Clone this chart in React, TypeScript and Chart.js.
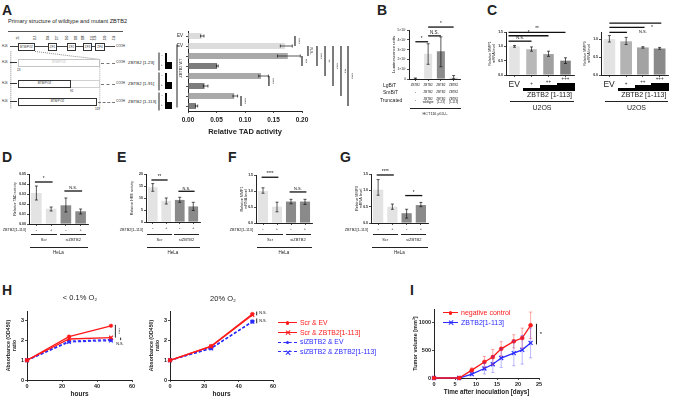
import React, { useEffect, useRef } from 'react';
import { Chart, registerables } from 'chart.js';

Chart.register(...registerables);

const FF = "'Liberation Sans', Arial, Helvetica, sans-serif";
Chart.defaults.font.family = FF;
Chart.defaults.color = '#222';

// ======================= DATA =======================
// Panel A – Relative TAD activity (rows listed from top to bottom)
const aRows = ['EV', 'EV', '', '', '', '', '', ''];
const aMean = [0.024, 0.17, 0.175, 0.051, 0.128, 0.029, 0.081, 0.014];
const aLow = [0.022, 0.162, 0.157, 0.05, 0.124, 0.027, 0.079, 0.013];
const aHigh = [0.028, 0.183, 0.197, 0.053, 0.141, 0.035, 0.087, 0.017];
const aTicks = [0, 0.05, 0.1, 0.15, 0.2];
const aWtNumbers = ['25', '113', '204', '227', '260', '283', '288', '311', '316', '339', '514'];

// Panel B – NanoBiT luminescence
const bCats = ['EV', 'ZBTB2 wildtype', 'ZBTB2 [1-23]', 'ZBTB2 [1-113]'];
const bMean = [0.05e7, 2.57e7, 2.83e7, 0.12e7];
const bLow = [0.0, 1.5e7, 1.25e7, 0.02e7];
const bHigh = [0.1e7, 3.6e7, 4.3e7, 0.35e7];
const bTicks = [0, 1e7, 2e7, 3e7, 4e7, 5e7];
const bLgBiT = ['ZBTB2', 'ZBTB2', 'ZBTB2', 'ZBTB2'];
const bSmBiT = ['-', 'ZBTB2', 'ZBTB2', 'ZBTB2'];
const bTruncated = ['-', 'ZBTB2\nwildtype', 'ZBTB2\n[1-23]', 'ZBTB2\n[1-113]'];

// Panel C – U2OS dose response
const cCats = ['EV', '+', '++', '+++'];
const c1Mean = [1.0, 0.9, 0.73, 0.5];
const c1Low = [0.97, 0.83, 0.65, 0.4];
const c1High = [1.03, 0.98, 0.83, 0.6];
const c1Ticks = [0, 0.5, 1.0, 1.5];
const c2Mean = [1.0, 0.94, 0.77, 0.74];
const c2Low = [0.92, 0.85, 0.75, 0.72];
const c2High = [1.1, 1.05, 0.79, 0.77];
const c2Ticks = [0, 0.5, 1.0];

// Panels D–G – HeLa (Scr -, Scr +, siZBTB2 -, siZBTB2 +)
const helaSigns = ['-', '+', '-', '+'];
const dMean = [0.031, 0.0153, 0.0187, 0.0127];
const dLow = [0.024, 0.013, 0.012, 0.01];
const dHigh = [0.038, 0.017, 0.026, 0.015];
const dTicks = [0, 0.01, 0.02, 0.03, 0.04, 0.05];
const eMean = [14.5, 8.8, 9.2, 6.5];
const eLow = [12.8, 7.5, 8.2, 4.8];
const eHigh = [16.0, 10.0, 10.3, 8.2];
const eTicks = [0, 5, 10, 15, 20];
const fMean = [1.0, 0.51, 0.67, 0.67];
const fLow = [0.93, 0.35, 0.6, 0.58];
const fHigh = [1.1, 0.65, 0.74, 0.74];
const fTicks = [0, 0.5, 1.0, 1.5];
const gMean = [1.02, 0.5, 0.3, 0.55];
const gLow = [0.85, 0.42, 0.15, 0.5];
const gHigh = [1.33, 0.58, 0.42, 0.63];
const gTicks = [0, 0.5, 1.0, 1.5];

// Panel H – proliferation (hours)
const hTime = [0, 24, 48];
const hLowScrEV = [1, 2.2, 2.75];
const hLowScrZ = [1, 2.08, 2.15];
const hLowSiEV = [1, 1.97, 2.05];
const hLowSiZ = [1, 1.93, 2.0];
const hHighScrEV = [1, 1.72, 3.35];
const hHighScrZ = [1, 1.7, 3.3];
const hHighSiEV = [1, 1.62, 2.97];
const hHighSiZ = [1, 1.6, 2.95];
const hXTicks = [0, 20, 40, 60];
const hYTicks = [0, 1, 2, 3];
const hSeriesNames = ['Scr & EV', 'Scr & ZBTB2[1-113]', 'siZBTB2 & EV', 'siZBTB2 & ZBTB2[1-113]'];

// Panel I – tumor volume
const iDays = [0, 6, 9, 12, 14, 16, 19, 21, 23];
const iNeg = [0, 0, 143, 291, 380, 530, 666, 726, 958];
const iNegSD = [0, 0, 40, 100, 140, 130, 120, 180, 240];
const iZ = [0, 0, 71, 173, 250, 363, 452, 512, 637];
const iZSD = [0, 0, 30, 100, 150, 170, 230, 260, 270];
const iXTicks = [0, 5, 10, 15, 20, 25];
const iYTicks = [0, 500, 1000];
const iSeriesNames = ['negative control', 'ZBTB2[1-113]'];

// ======================= STYLES =======================
const RED = '#ff1a1a';
const BLUE = '#2b2bff';
const aColors = ['#dcdcdc', '#dcdcdc', '#a9a9a9', '#7d7d7d', '#a9a9a9', '#7d7d7d', '#a9a9a9', '#7d7d7d'];
const bColors = ['#cfcfcf', '#e3e3e3', '#8c8c8c', '#b5b5b5'];
const c1Colors = ['#e3e3e3', '#b8b8b8', '#a0a0a0', '#808080'];
const c2Colors = ['#e3e3e3', '#b3b3b3', '#a3a3a3', '#8a8a8a'];
const helaColors = ['#e3e3e3', '#e3e3e3', '#8a8a8a', '#8a8a8a'];

// ======================= HELPERS =======================
type Rect = { x0: number; x1: number; y0: number; y1: number; L: number; R: number; T: number; B: number };
const box = (r: Rect) => ({ left: r.x0 - r.L, top: r.y0 - r.T, width: r.x1 - r.x0 + r.L + r.R, height: r.y1 - r.y0 + r.T + r.B });
const catCenter = (r: Rect, n: number, i: number) => r.x0 + ((i + 0.5) * (r.x1 - r.x0)) / n;

function linAxis(o: any) {
  return {
    type: 'linear',
    position: o.pos,
    min: o.min,
    max: o.max,
    bounds: 'data',
    afterBuildTicks: (s: any) => {
      s.ticks = o.ticks.map((v: number) => ({ value: v }));
    },
    afterFit: (s: any) => {
      if (o.pos === 'left') s.width = o.size;
      else s.height = o.size;
    },
    ticks: {
      callback: (v: any) => o.fmt(Number(v)),
      font: { size: o.fs, weight: o.bold ? 'bold' : 'normal' },
      color: '#222',
      padding: o.pad ?? 1,
      autoSkip: false,
      maxRotation: 0,
      minRotation: 0,
    },
    grid: { drawOnChartArea: false, drawTicks: true, tickLength: o.tickLen ?? 2, color: '#222', lineWidth: 0.8 },
    border: { display: true, color: '#222', width: 1 },
    title: o.title
      ? { display: true, text: o.title, font: { size: o.tfs ?? o.fs, weight: o.tbold ? 'bold' : 'normal', lineHeight: 1.15 }, color: '#222', padding: 0 }
      : { display: false },
  };
}

function catAxis(o: any) {
  return {
    type: 'category',
    position: o.pos,
    offset: true,
    afterFit: (s: any) => {
      if (o.pos === 'left') s.width = o.size;
      else s.height = o.size;
    },
    ticks: { display: o.show, font: { size: o.fs ?? 4 }, color: '#222', padding: o.pad ?? 1, autoSkip: false, maxRotation: 0, minRotation: 0 },
    grid: { offset: false, drawOnChartArea: false, drawTicks: true, tickLength: 2, color: '#222', lineWidth: 0.8 },
    border: { display: true, color: '#222', width: 1 },
  };
}

type ErrSpec = { ds: number; low: number[]; high: number[]; color?: string; w?: number; cap?: number };
function errPlugin(specs: ErrSpec[], horizontal: boolean) {
  return {
    id: 'errbars',
    afterDatasetsDraw(chart: any) {
      const ctx = chart.ctx;
      const vs = horizontal ? chart.scales.x : chart.scales.y;
      specs.forEach((sp) => {
        const meta = chart.getDatasetMeta(sp.ds);
        ctx.save();
        ctx.strokeStyle = sp.color ?? '#111';
        ctx.lineWidth = sp.w ?? 0.7;
        const cap = sp.cap ?? 1.5;
        meta.data.forEach((el: any, i: number) => {
          if (sp.low[i] == null || sp.low[i] === sp.high[i]) return;
          const a = vs.getPixelForValue(sp.low[i]);
          const b = vs.getPixelForValue(sp.high[i]);
          const c = horizontal ? el.y : el.x;
          ctx.beginPath();
          if (horizontal) {
            ctx.moveTo(a, c); ctx.lineTo(b, c);
            ctx.moveTo(a, c - cap); ctx.lineTo(a, c + cap);
            ctx.moveTo(b, c - cap); ctx.lineTo(b, c + cap);
          } else {
            ctx.moveTo(c, a); ctx.lineTo(c, b);
            ctx.moveTo(c - cap, a); ctx.lineTo(c + cap, a);
            ctx.moveTo(c - cap, b); ctx.lineTo(c + cap, b);
          }
          ctx.stroke();
        });
        ctx.restore();
      });
    },
  };
}

type Ann = any;
function annPlugin(items: Ann[]) {
  return {
    id: 'ann',
    afterDraw(chart: any) {
      const { ctx } = chart;
      const xs = chart.scales.x;
      const ys = chart.scales.y;
      ctx.save();
      items.forEach((it: any) => {
        if (it.l) {
          ctx.strokeStyle = it.c ?? '#111';
          ctx.lineWidth = it.w ?? 1.3;
          ctx.beginPath();
          ctx.moveTo(xs.getPixelForValue(it.l[0]), ys.getPixelForValue(it.l[1]));
          ctx.lineTo(xs.getPixelForValue(it.l[2]), ys.getPixelForValue(it.l[3]));
          ctx.stroke();
        } else {
          const x = xs.getPixelForValue(it.at[0]) + (it.dx ?? 0);
          const y = ys.getPixelForValue(it.at[1]) + (it.dy ?? 0);
          ctx.save();
          ctx.translate(x, y);
          if (it.rot) ctx.rotate((it.rot * Math.PI) / 180);
          ctx.font = `${it.b ? 'bold ' : ''}${it.s ?? 4.5}px ${FF}`;
          ctx.fillStyle = it.c ?? '#111';
          ctx.textAlign = it.align ?? 'center';
          ctx.textBaseline = it.base ?? 'bottom';
          ctx.fillText(it.t, 0, 0);
          ctx.restore();
        }
      });
      ctx.restore();
    },
  };
}

const hBr = (a: number, b: number, v: number, t: string, s = 4.5): Ann[] => [
  { l: [a, v, b, v] },
  { t, at: [(a + b) / 2, v], dy: -0.8, s },
];
const vBr = (v: number, a: number, b: number, t: string, s = 3.6): Ann[] => [
  { l: [v, a, v, b], w: 1.1 },
  { t, at: [v, (a + b) / 2], dx: 0.8, s, rot: 90, base: 'bottom' },
];

function ChartCanvas({ r, make }: { r: Rect; make: () => any }) {
  const ref = useRef<HTMLCanvasElement>(null);
  const b = box(r);
  useEffect(() => {
    const ch = new Chart(ref.current as HTMLCanvasElement, make());
    return () => ch.destroy();
  }, []);
  return (
    <canvas
      ref={ref}
      width={b.width}
      height={b.height}
      style={{ position: 'absolute', left: b.left, top: b.top, width: b.width, height: b.height }}
    />
  );
}

function barConfig(o: any) {
  return {
    type: 'bar',
    data: {
      labels: o.labels,
      datasets: [{ data: o.values, backgroundColor: o.colors, borderWidth: 0, barPercentage: o.barPct, categoryPercentage: 1 }],
    },
    options: {
      animation: false,
      responsive: false,
      maintainAspectRatio: false,
      events: [],
      indexAxis: o.horizontal ? 'y' : 'x',
      layout: { padding: { top: o.r.T, right: o.r.R, left: 0, bottom: 0 } },
      plugins: { legend: { display: false }, tooltip: { enabled: false } },
      scales: o.horizontal ? { x: o.valAx, y: o.catAx } : { x: o.catAx, y: o.valAx },
    },
    plugins: [errPlugin([{ ds: 0, low: o.low, high: o.high }], !!o.horizontal), annPlugin(o.ann ?? [])],
  };
}

function lineConfig(o: any) {
  return {
    type: 'line',
    data: { datasets: o.datasets },
    options: {
      animation: false,
      responsive: false,
      maintainAspectRatio: false,
      events: [],
      layout: { padding: { top: o.r.T, right: o.r.R, left: 0, bottom: 0 } },
      plugins: { legend: { display: false }, tooltip: { enabled: false } },
      scales: { x: o.xAx, y: o.yAx },
    },
    plugins: [errPlugin(o.err ?? [], false), annPlugin(o.ann ?? [])],
  };
}

const pts = (xs: number[], ys: number[]) => xs.map((x, i) => ({ x, y: ys[i] }));

function lineDs(data: any[], color: string, style: string, dashed: boolean) {
  return {
    data,
    borderColor: color,
    backgroundColor: color,
    borderWidth: 1.3,
    borderDash: dashed ? [3, 2] : [],
    pointStyle: style,
    pointRadius: style === 'circle' ? 1.8 : 2.6,
    pointBorderWidth: style === 'circle' ? 0.5 : 1.2,
    pointBackgroundColor: color,
    pointBorderColor: color,
    fill: false,
    tension: 0,
    clip: false,
  };
}

// ---------- HTML helpers ----------
function Txt(p: any) {
  const { x, y, s = 5, b = false, c = '#222', a = 'l', rot = 0, lh = 1.05, children } = p;
  const tx = a === 'l' ? '0%' : a === 'c' ? '-50%' : '-100%';
  return (
    <div
      style={{
        position: 'absolute',
        left: x,
        top: y,
        fontSize: s,
        fontWeight: b ? 700 : 400,
        color: c,
        whiteSpace: 'pre',
        lineHeight: lh,
        textAlign: a === 'l' ? 'left' : a === 'c' ? 'center' : 'right',
        transform: `translate(${tx},-50%)${rot ? ` rotate(${rot}deg)` : ''}`,
        transformOrigin: '50% 50%',
      }}
    >
      {children}
    </div>
  );
}

function Ln({ x1, y1, x2, y2, w = 1, c = '#222', dash = 'solid' }: any) {
  const dx = x2 - x1;
  const dy = y2 - y1;
  const len = Math.hypot(dx, dy);
  const ang = (Math.atan2(dy, dx) * 180) / Math.PI;
  return (
    <div
      style={{
        position: 'absolute',
        left: x1,
        top: y1 - w / 2,
        width: len,
        height: 0,
        borderTop: `${w}px ${dash} ${c}`,
        transform: `rotate(${ang}deg)`,
        transformOrigin: `0 ${w / 2}px`,
      }}
    />
  );
}

function Bx({ x, y, w, h, bg = '#fff', bc = '#333', bw = 0.8, text, tc = '#333', ts = 3.2, noLeft = false }: any) {
  return (
    <div
      style={{
        position: 'absolute',
        left: x,
        top: y,
        width: w,
        height: h,
        boxSizing: 'border-box',
        background: bg,
        border: `${bw}px solid ${bc}`,
        borderLeft: noLeft ? 'none' : `${bw}px solid ${bc}`,
        fontSize: ts,
        color: tc,
        display: 'flex',
        alignItems: 'center',
        justifyContent: 'center',
        lineHeight: 1,
      }}
    >
      {text}
    </div>
  );
}

function Rc({ x, y, w, h, c = '#000' }: any) {
  return <div style={{ position: 'absolute', left: x, top: y, width: w, height: h, background: c }} />;
}

// ======================= LAYOUT =======================
const rA: Rect = { x0: 188, x1: 302, y0: 31, y1: 111, L: 20, R: 56, T: 6, B: 25 };
const rB: Rect = { x0: 409, x1: 460, y0: 30, y1: 79, L: 18, R: 4, T: 13, B: 4 };
const rC1: Rect = { x0: 506, x1: 574, y0: 32, y1: 75, L: 18, R: 4, T: 10, B: 4 };
const rC2: Rect = { x0: 601, x1: 668, y0: 32, y1: 75, L: 18, R: 5, T: 13, B: 4 };
const rD: Rect = { x0: 29, x1: 88, y0: 174, y1: 224, L: 16, R: 3, T: 6, B: 10 };
const rE: Rect = { x0: 146, x1: 200, y0: 174, y1: 222, L: 16, R: 3, T: 6, B: 10 };
const rF: Rect = { x0: 256, x1: 312, y0: 175, y1: 223, L: 16, R: 3, T: 6, B: 10 };
const rG: Rect = { x0: 371, x1: 428, y0: 174, y1: 223, L: 16, R: 3, T: 6, B: 10 };
const rH1: Rect = { x0: 27, x1: 132, y0: 311, y1: 380, L: 21, R: 6, T: 6, B: 18 };
const rH2: Rect = { x0: 170, x1: 273, y0: 311, y1: 380, L: 21, R: 6, T: 6, B: 18 };
const rI: Rect = { x0: 434, x1: 539, y0: 308, y1: 378, L: 22, R: 12, T: 4, B: 18 };

const f2 = (v: number) => v.toFixed(2);
const f1 = (v: number) => v.toFixed(1);
const f0 = (v: number) => String(v);

// ---------- chart factories ----------
const makeA = () =>
  barConfig({
    r: rA,
    horizontal: true,
    labels: aRows,
    values: aMean,
    low: aLow,
    high: aHigh,
    colors: aColors,
    barPct: 0.6,
    catAx: catAxis({ pos: 'left', size: rA.L, show: true, fs: 4.5, pad: 3 }),
    valAx: linAxis({ pos: 'bottom', size: rA.B, ticks: aTicks, min: 0, max: 0.2, fmt: f2, fs: 6.5, bold: true, pad: 3, title: 'Relative TAD activity', tfs: 7.5, tbold: true }),
    ann: [
      ...vBr(0.1877, 0, 1, '****'),
      ...vBr(0.2, 2, 3, '***'),
      ...vBr(0.2105, 1, 2, 'N.S.'),
      ...vBr(0.2263, 1, 3, '****'),
      ...vBr(0.2404, 1, 4, '**'),
      ...vBr(0.2544, 1, 5, '****'),
      ...vBr(0.2684, 1, 6, '***'),
      ...vBr(0.2807, 1, 7, '****'),
      ...vBr(0.142, 4, 5, '****'),
      ...vBr(0.093, 6, 7, '****'),
    ],
  });

const bFmt = (v: number) => (v === 0 ? '0' : `${Math.round(v / 1e7)}×10⁷`);
const makeB = () =>
  barConfig({
    r: rB,
    labels: bCats,
    values: bMean,
    low: bLow,
    high: bHigh,
    colors: bColors,
    barPct: 0.63,
    catAx: catAxis({ pos: 'bottom', size: rB.B, show: false }),
    valAx: linAxis({ pos: 'left', size: rB.L, ticks: bTicks, min: 0, max: 5e7, fmt: bFmt, fs: 3.3, title: 'Luminescence units', tfs: 4.2 }),
    ann: [...hBr(0, 1, 3.8e7, '*'), ...hBr(1, 2, 4.4e7, 'N.S.'), ...hBr(1, 3, 5.3e7, '*')],
  });

const makeC1 = () =>
  barConfig({
    r: rC1,
    labels: cCats,
    values: c1Mean,
    low: c1Low,
    high: c1High,
    colors: c1Colors,
    barPct: 0.62,
    catAx: catAxis({ pos: 'bottom', size: rC1.B, show: false }),
    valAx: linAxis({ pos: 'left', size: rC1.L, ticks: c1Ticks, min: 0, max: 1.5, fmt: f1, fs: 3.5, bold: true, title: ['Relative MMP1', 'mRNA level'], tfs: 3.6 }),
    ann: [...hBr(-0.35, 1, 1.18, 'N.S.', 4), ...hBr(-0.35, 2, 1.37, '*'), ...hBr(-0.35, 3, 1.49, '**')],
  });

const makeC2 = () =>
  barConfig({
    r: rC2,
    labels: cCats,
    values: c2Mean,
    low: c2Low,
    high: c2High,
    colors: c2Colors,
    barPct: 0.7,
    catAx: catAxis({ pos: 'bottom', size: rC2.B, show: false }),
    valAx: linAxis({ pos: 'left', size: rC2.L, ticks: c2Ticks, min: 0, max: 1.2, fmt: f1, fs: 3.5, bold: true, title: ['Relative MMP9', 'mRNA level'], tfs: 3.6 }),
    ann: [
      { l: [0, 1.45, 3.1, 1.45] },
      { t: '*', at: [3.0, 1.45], dy: -0.5, s: 5 },
      { l: [0, 1.33, 2.1, 1.33] },
      { t: '*', at: [2.55, 1.33], dy: 2.5, s: 5 },
      { l: [0, 1.19, 1.05, 1.19] },
      { t: 'N.S.', at: [2.0, 1.19], dy: 2, s: 4 },
    ],
  });

const helaConfig = (r: Rect, mean: number[], low: number[], high: number[], ticks: number[], max: number, fmt: any, title: any, ann: Ann[]) => () =>
  barConfig({
    r,
    labels: helaSigns,
    values: mean,
    low,
    high,
    colors: helaColors,
    barPct: 0.72,
    catAx: catAxis({ pos: 'bottom', size: r.B, show: true, fs: 4, pad: 1.5 }),
    valAx: linAxis({ pos: 'left', size: r.L, ticks, min: 0, max, fmt, fs: 3.5, bold: true, title, tfs: 3.7 }),
    ann,
  });

const makeD = helaConfig(rD, dMean, dLow, dHigh, dTicks, 0.05, f2, 'Relative TAD activity', [...hBr(-0.1, 1.1, 0.042, '*'), ...hBr(1.9, 3.1, 0.033, 'N.S.', 4)]);
const makeE = helaConfig(rE, eMean, eLow, eHigh, eTicks, 20, f0, 'Relative HRE activity', [...hBr(-0.1, 1.1, 17.5, '**'), ...hBr(1.9, 3.1, 12.8, 'N.S.', 4)]);
const makeF = helaConfig(rF, fMean, fLow, fHigh, fTicks, 1.5, f1, ['Relative MMP1', 'mRNA level'], [...hBr(-0.1, 1.1, 1.43, '****'), ...hBr(1.9, 3.1, 0.97, 'N.S.', 4)]);
const makeG = helaConfig(rG, gMean, gLow, gHigh, gTicks, 1.5, f1, ['Relative MMP9', 'mRNA level'], [...hBr(-0.1, 1.1, 1.47, '****'), ...hBr(1.9, 3.1, 0.84, '*')]);

const hAxes = (r: Rect) => ({
  xAx: linAxis({ pos: 'bottom', size: r.B, ticks: hXTicks, min: 0, max: 60, fmt: f0, fs: 5.5, bold: true, title: 'hours', tfs: 6.5, tbold: true }),
  yAx: linAxis({ pos: 'left', size: r.L, ticks: hYTicks, min: 0, max: 3.5, fmt: f0, fs: 5.5, bold: true, title: ['Absorbance (OD450)', 'ratio'], tfs: 5.2, tbold: true }),
});

const hDatasets = (a: number[], b: number[], c: number[], d: number[]) => [
  lineDs(pts(hTime, a), RED, 'circle', false),
  lineDs(pts(hTime, b), RED, 'crossRot', false),
  lineDs(pts(hTime, c), BLUE, 'circle', true),
  lineDs(pts(hTime, d), BLUE, 'crossRot', true),
];

const makeH1 = () =>
  lineConfig({
    r: rH1,
    datasets: hDatasets(hLowScrEV, hLowScrZ, hLowSiEV, hLowSiZ),
    ...hAxes(rH1),
    ann: [
      { l: [50.5, 2.8, 50.5, 2.15], w: 0.9 },
      { t: '****', at: [50.5, 2.48], dx: 1, s: 3.6, rot: 90, base: 'bottom' },
      { l: [53.5, 2.15, 53.5, 2.02], w: 0.9 },
      { t: 'N.S.', at: [51, 1.82], s: 3.8, align: 'left', base: 'middle' },
    ],
  });

const makeH2 = () =>
  lineConfig({
    r: rH2,
    datasets: hDatasets(hHighScrEV, hHighScrZ, hHighSiEV, hHighSiZ),
    ...hAxes(rH2),
    ann: [
      { l: [50.5, 3.47, 50.5, 3.28], w: 0.9 },
      { t: 'N.S.', at: [52, 3.38], s: 3.8, align: 'left', base: 'middle' },
      { l: [50.5, 3.12, 50.5, 2.88], w: 0.9 },
      { t: 'N.S.', at: [52, 3.0], s: 3.8, align: 'left', base: 'middle' },
    ],
  });

const makeI = () =>
  lineConfig({
    r: rI,
    datasets: [
      { ...lineDs(pts(iDays, iNeg), RED, 'circle', false), pointRadius: 2 },
      { ...lineDs(pts(iDays, iZ), BLUE, 'crossRot', false), pointRadius: 2.8 },
    ],
    xAx: linAxis({ pos: 'bottom', size: rI.B, ticks: iXTicks, min: 0, max: 25, fmt: f0, fs: 5.5, bold: true, title: 'Time after inoculation [days]', tfs: 6.3, tbold: true }),
    yAx: linAxis({ pos: 'left', size: rI.L, ticks: iYTicks, min: 0, max: 1250, fmt: f0, fs: 5.5, bold: true, title: 'Tumor volume [mm³]', tfs: 5.5, tbold: true }),
    err: [
      { ds: 0, low: iNeg.map((v, i) => v - iNegSD[i]), high: iNeg.map((v, i) => v + iNegSD[i]), color: 'rgba(255,40,40,0.45)', w: 0.9, cap: 1.6 },
      { ds: 1, low: iZ.map((v, i) => v - iZSD[i]), high: iZ.map((v, i) => v + iZSD[i]), color: 'rgba(60,60,255,0.4)', w: 0.9, cap: 1.6 },
    ],
    ann: [
      { l: [24.4, 985, 24.4, 610], w: 1 },
      { t: '*', at: [25.2, 800], s: 6, align: 'left', base: 'middle' },
    ],
  });

// ======================= PANELS (HTML parts) =======================
function DiagramA() {
  const wtX = [18, 35, 48, 57, 67, 76, 83, 92, 95, 105, 114];
  const rows = [
    { y: 63, label: 'ZBTB2 [1-23]', end: '23', endX: 17 },
    { y: 84, label: 'ZBTB2 [1-91]', end: '91', endX: 70 },
    { y: 102, label: 'ZBTB2 [1-113]', end: '113', endX: 95 },
  ];
  return (
    <>
      <Txt x={8} y={22} s={5.6}>Primary structure of wildtype and mutant ZBTB2</Txt>
      <Ln x1={8} y1={31} x2={123} y2={31} w={1} c="#555" />
      {/* wildtype */}
      <Txt x={2} y={47} s={3}>H₂N</Txt>
      <Ln x1={10} y1={47} x2={115} y2={47} w={1.4} c="#444" />
      {wtX.map((x, i) => (
        <Txt key={i} x={x} y={38} s={2.8} a="c" rot={-90}>{aWtNumbers[i]}</Txt>
      ))}
      <Bx x={18} y={43} w={17} h={8} text="BTB/POZ" ts={3} />
      <Bx x={48} y={43} w={9} h={8} text="ZF1" ts={3} />
      <Bx x={67} y={43} w={9} h={8} text="ZF2" ts={3} />
      <Bx x={83} y={43} w={9} h={8} text="ZF3" ts={3} />
      <Bx x={95} y={43} w={10} h={8} text="ZF4" ts={3} />
      <Txt x={116} y={47} s={3}>COOH</Txt>
      {/* guide lines */}
      <Ln x1={11} y1={51} x2={11} y2={108} w={0.6} c="#888" dash="dotted" />
      <Ln x1={35} y1={51} x2={100} y2={59} w={0.6} c="#888" dash="dotted" />
      <Ln x1={100} y1={59} x2={100} y2={108} w={0.6} c="#aaa" dash="dotted" />
      {/* mutants */}
      {rows.map((r, i) => (
        <React.Fragment key={i}>
          <Txt x={2} y={r.y} s={3}>H₂N</Txt>
          <Ln x1={10} y1={r.y} x2={17} y2={r.y} w={1.8} c="#333" />
          {i === 0 && <Bx x={18} y={r.y - 4} w={82} h={8} bc="#c4c4c4" tc="#bbb" text="BTB/POZ" />}
          {i === 1 && (
            <>
              <Bx x={71} y={r.y - 4} w={29} h={8} bc="#d0d0d0" noLeft text="" />
              <Bx x={18} y={r.y - 4} w={53} h={8} text="BTB/POZ" />
            </>
          )}
          {i === 2 && <Bx x={18} y={r.y - 4} w={79} h={8} text="BTB/POZ" />}
          <Txt x={r.endX} y={r.y + 8} s={3}>{r.end}</Txt>
          <Ln x1={i === 2 ? 98 : 101} y1={r.y} x2={115} y2={r.y} w={0.8} c="#777" dash="dashed" />
          <Txt x={116} y={r.y} s={3}>COOH</Txt>
          <Txt x={128} y={r.y} s={4.4}>{r.label}</Txt>
        </React.Fragment>
      ))}
      {/* -/+ wedges for the bar pairs */}
      {[
        [56, 66],
        [76, 86],
        [96, 106],
      ].map(([c0, c1], i) => (
        <React.Fragment key={'w' + i}>
          <Ln x1={159} y1={c0 - 4} x2={159} y2={c1 + 4} w={1} c="#222" />
          <Rc x={165} y={c0 - 3} w={2} h={c1 - c0 + 6} />
          <Rc x={167} y={c1 - 4} w={5} h={7} />
          <Txt x={162} y={c0} s={3} a="c">-</Txt>
          <Txt x={162} y={c1} s={3} a="c">+</Txt>
        </React.Fragment>
      ))}
      <Ln x1={177} y1={44} x2={177} y2={107} w={1} c="#222" />
      <Txt x={181} y={68} s={3.8} a="c" rot={-90}>ZBTB2 WT</Txt>
    </>
  );
}

function TableB() {
  const cx = (i: number) => catCenter(rB, 4, i);
  return (
    <>
      <Txt x={383} y={86} s={5}>LgBiT</Txt>
      <Txt x={383} y={93} s={5}>SmBiT</Txt>
      <Txt x={380} y={101} s={5}>Truncated</Txt>
      {bLgBiT.map((t, i) => (
        <Txt key={'l' + i} x={cx(i)} y={86} s={3} a="c">{t}</Txt>
      ))}
      {bSmBiT.map((t, i) => (
        <Txt key={'s' + i} x={cx(i)} y={93} s={3} a="c">{t}</Txt>
      ))}
      {bTruncated.map((t, i) => (
        <Txt key={'t' + i} x={cx(i)} y={101} s={3} a="c">{t}</Txt>
      ))}
      <Ln x1={410} y1={109} x2={461} y2={109} w={1.2} />
      <Txt x={435} y={113.5} s={3.8} a="c">HCT116 p53-/-</Txt>
    </>
  );
}

function LabelsC({ r }: { r: Rect }) {
  const cx = (i: number) => catCenter(r, 4, i);
  const w = (r.x1 - r.x0) / 4;
  return (
    <>
      <Txt x={cx(0) - 6} y={84} s={8.5}>EV</Txt>
      <Rc x={cx(1) - w / 2} y={87.5} w={w} h={3} />
      <Rc x={cx(2) - w / 2} y={85} w={w} h={5.5} />
      <Rc x={cx(3) - w / 2} y={82.5} w={w + 1} h={8} />
      <Txt x={cx(1)} y={84.3} s={4.5} a="c">+</Txt>
      <Txt x={cx(2)} y={81.8} s={4.5} a="c">++</Txt>
      <Txt x={cx(3)} y={79.3} s={4.5} a="c">+++</Txt>
      <Txt x={(cx(1) + cx(3)) / 2 + 1} y={95} s={7} a="c">ZBTB2 [1-113]</Txt>
      <Ln x1={r.x0 + 4} y1={101.5} x2={r.x1} y2={101.5} w={1.2} />
      <Txt x={(r.x0 + r.x1) / 2 + 2} y={107.5} s={7} a="c">U2OS</Txt>
    </>
  );
}

function LabelsHeLa({ r }: { r: Rect }) {
  const cx = (i: number) => catCenter(r, 4, i);
  return (
    <>
      <Txt x={r.x0 - 3} y={230} s={3.8} a="r">ZBTB2[1-113]</Txt>
      <Ln x1={cx(0) - 5.5} y1={235} x2={cx(1) + 5.5} y2={235} w={1.3} />
      <Ln x1={cx(2) - 5.5} y1={235} x2={cx(3) + 5.5} y2={235} w={1.3} />
      <Txt x={(cx(0) + cx(1)) / 2} y={240} s={4} a="c">Scr</Txt>
      <Txt x={(cx(2) + cx(3)) / 2} y={240} s={4} a="c">siZBTB2</Txt>
      <Ln x1={r.x0 + 1} y1={247.5} x2={r.x1} y2={247.5} w={1.3} />
      <Txt x={(r.x0 + r.x1) / 2} y={252.5} s={4.5} a="c">HeLa</Txt>
    </>
  );
}

function LegendItem({ x, y, color, marker, dashed, text, len, fs }: any) {
  const mx = x + len / 2;
  return (
    <>
      <Ln x1={x} y1={y} x2={x + len} y2={y} w={1.3} c={color} dash={dashed ? 'dashed' : 'solid'} />
      {marker === 'circle' ? (
        <div style={{ position: 'absolute', left: mx - 1.8, top: y - 1.8, width: 3.6, height: 3.6, borderRadius: '50%', background: color }} />
      ) : (
        <>
          <Ln x1={mx - 2} y1={y - 2} x2={mx + 2} y2={y + 2} w={1.2} c={color} />
          <Ln x1={mx - 2} y1={y + 2} x2={mx + 2} y2={y - 2} w={1.2} c={color} />
        </>
      )}
      <Txt x={x + len + 3} y={y} s={fs} c={color}>{text}</Txt>
    </>
  );
}

export default function App() {
  return (
    <div
      style={{
        position: 'absolute',
        left: 0,
        top: 0,
        width: 675,
        height: 400,
        overflow: 'hidden',
        background: '#fff',
        fontFamily: FF,
        color: '#222',
      }}
    >
      {/* panel letters */}
      <Txt x={2} y={10} s={14} b>A</Txt>
      <Txt x={377} y={10} s={14} b>B</Txt>
      <Txt x={487} y={10} s={14} b>C</Txt>
      <Txt x={2} y={157} s={14} b>D</Txt>
      <Txt x={117} y={157} s={14} b>E</Txt>
      <Txt x={228} y={157} s={14} b>F</Txt>
      <Txt x={340} y={157} s={14} b>G</Txt>
      <Txt x={2} y={290} s={14} b>H</Txt>
      <Txt x={410} y={290} s={14} b>I</Txt>

      <ChartCanvas r={rA} make={makeA} />
      <DiagramA />

      <ChartCanvas r={rB} make={makeB} />
      <TableB />

      <ChartCanvas r={rC1} make={makeC1} />
      <LabelsC r={rC1} />
      <ChartCanvas r={rC2} make={makeC2} />
      <LabelsC r={rC2} />

      <ChartCanvas r={rD} make={makeD} />
      <LabelsHeLa r={rD} />
      <ChartCanvas r={rE} make={makeE} />
      <LabelsHeLa r={rE} />
      <ChartCanvas r={rF} make={makeF} />
      <LabelsHeLa r={rF} />
      <ChartCanvas r={rG} make={makeG} />
      <LabelsHeLa r={rG} />

      <Txt x={80} y={298} s={7.5} a="c">{'< 0.1% O₂'}</Txt>
      <Txt x={223} y={299} s={7.5} a="c">20% O₂</Txt>
      <ChartCanvas r={rH1} make={makeH1} />
      <ChartCanvas r={rH2} make={makeH2} />
      {hSeriesNames.map((n, i) => (
        <LegendItem
          key={n}
          x={278}
          y={323 + i * 9.7}
          len={19}
          fs={6.8}
          color={i < 2 ? RED : BLUE}
          marker={i % 2 === 0 ? 'circle' : 'cross'}
          dashed={i >= 2}
          text={n}
        />
      ))}

      <ChartCanvas r={rI} make={makeI} />
      {iSeriesNames.map((n, i) => (
        <LegendItem key={n} x={443} y={313 + i * 10} len={15} fs={7} color={i === 0 ? RED : BLUE} marker={i === 0 ? 'circle' : 'cross'} dashed={false} text={n} />
      ))}
    </div>
  );
}
